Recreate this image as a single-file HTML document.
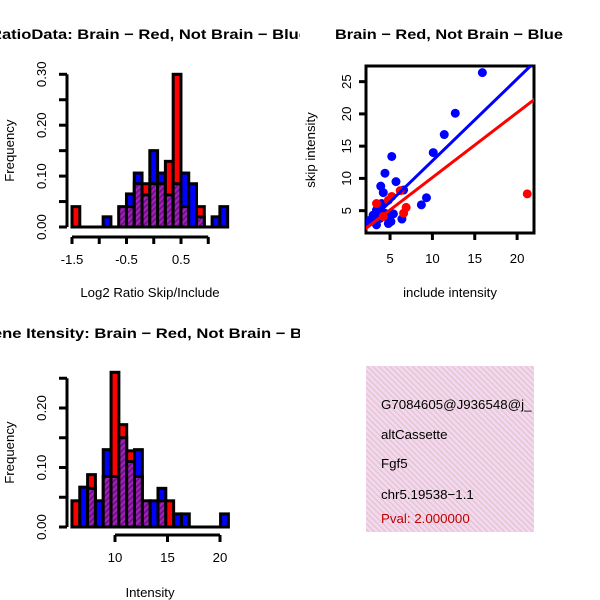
<!DOCTYPE html>
<html><head><meta charset="utf-8"><style>
html,body{margin:0;padding:0;background:#fff;}
svg{display:block;font-family:"Liberation Sans",sans-serif;}
</style></head><body>
<svg id="fig" width="600" height="600" viewBox="0 0 600 600">
<defs>
<pattern id="hatch" width="4" height="4" patternUnits="userSpaceOnUse" patternTransform="rotate(45)">
<rect width="4" height="4" fill="#a020b8"/><rect width="1.6" height="4" fill="#6a1080"/>
</pattern>
<pattern id="pinkhatch" width="4" height="4" patternUnits="userSpaceOnUse" patternTransform="rotate(-45)">
<rect width="4" height="4" fill="#f6d6f0"/><rect width="1.3" height="4" fill="#dcc8cc"/>
</pattern>
<clipPath id="clipTop"><rect x="0" y="0" width="300" height="60"/></clipPath>
<clipPath id="clipBot"><rect x="0" y="300" width="300" height="60"/></clipPath>
<clipPath id="clipSc"><rect x="366" y="66" width="168" height="167"/></clipPath>
<clipPath id="clipBox"><rect x="366" y="366" width="168" height="166"/></clipPath>
</defs>
<g id="g1"></g>
<g id="g2"></g>
<g id="g3"></g>
<g>
<rect x="366" y="366" width="168" height="166" fill="url(#pinkhatch)"/>
<g clip-path="url(#clipBox)" font-size="13.3">
<text x="381" y="409">G7084605@J936548@j_</text>
<text x="381" y="439">altCassette</text>
<text x="381" y="468">Fgf5</text>
<text x="381" y="499">chr5.19538−1.1</text>
<text x="381" y="523" fill="#c00000">Pval: 2.000000</text>
</g></g>
</svg>
<script>
// ---- data ----
const ratioRed = [0.04,0,0,0,0,0,0.04,0.04,0.085,0.085,0.085,0.085,0.129,0.30,0.04,0,0.04,0,0,0];
const ratioBlue = [0,0,0,0,0.02,0,0.04,0.065,0.106,0.063,0.15,0.106,0.063,0.085,0.106,0.085,0.02,0,0.02,0.04];
const ratioXTicks = [-1.5,-1,-0.5,0,0.5,1];
const ratioXLabels = ["-1.5","","-0.5","","0.5",""];
const ratioYTicks = [0,0.05,0.10,0.15,0.20,0.25,0.30];
const ratioYLabels = ["0.00","","0.10","","0.20","","0.30"];
const intRed = [0.044,0,0.088,0,0.085,0.26,0.172,0.128,0.085,0.044,0,0.044,0.044,0,0,0,0,0,0,0];
const intBlue = [0,0.067,0.065,0.044,0.13,0.085,0.15,0.11,0.13,0.044,0.044,0.065,0,0.022,0.022,0,0,0,0,0.022];
const intXTicks = [10,15,20];
const intYTicks = [0,0.05,0.10,0.15,0.20,0.25];
const intYLabels = ["0.00","","0.10","","0.20",""];
const blueX = [15.9,12.7,11.4,10.1,5.2,4.4,5.7,3.9,4.2,6.6,9.3,8.7,6.4,5.1,3.0,3.4,4.0,3.8,3.4,4.4,5.4,4.8,2.6,3.6,4.6,3.2];
const blueY = [26.4,20.1,16.8,14.0,13.4,10.8,9.5,8.8,7.8,8.2,7.0,5.9,3.7,3.3,4.3,5.1,6.1,3.8,2.8,4.6,4.5,3.0,3.5,5.5,4.0,3.6];
const redX = [21.2,6.9,6.6,6.2,5.2,3.4,4.8,4.2];
const redY = [7.6,5.5,4.6,8.1,7.2,6.1,6.6,4.1];
const fitSlope = [1.27,1.005];
const fitIntercept = [0.02,0.09];
const scXTicks = [5,10,15,20];
const scYTicks = [5,10,15,20,25];

const NS="http://www.w3.org/2000/svg";
const FS=13.2;
function mk(parent,tag,attrs,text){const e=document.createElementNS(NS,tag);for(const k in attrs)e.setAttribute(k,attrs[k]);if(text!==undefined)e.textContent=text;parent.appendChild(e);return e;}

function hist(g,red,blue,x0,bw,xs,ys,base,xTicks,xLabels,xAxisY,yTicks,yLabels,title,titleX,titleLen,titleClip,titleY,xlab,xlabY){
  const X=v=>xs.o+(v-xs.v0)*xs.k, Y=v=>base-v*ys;
  for(let i=0;i<red.length;i++){
    const l=X(x0+i*bw), r=X(x0+(i+1)*bw);
    const mx=Math.max(red[i],blue[i]), mn=Math.min(red[i],blue[i]);
    if(mx>0 && red[i]!==blue[i]){
      const b=mk(g,'rect',{x:l,y:Y(mx),width:r-l,height:base-Y(mx),fill:red[i]>blue[i]?'#ff0000':'#0000ff',stroke:'#000','stroke-width':3});
      
      
    }
    if(mn>0){
      const p=mk(g,'rect',{x:l,y:Y(mn),width:r-l,height:base-Y(mn),fill:'url(#hatch)',stroke:'#000','stroke-width':3});
      
      
    }
  }
  const xl=X(x0), xr=X(x0+red.length*bw);
  mk(g,'line',{x1:xl,x2:xr,y1:base,y2:base,stroke:'#000','stroke-width':3});
  const xa=mk(g,'g',{});
  
  
  mk(xa,'line',{x1:X(xTicks[0]),x2:X(xTicks[xTicks.length-1]),y1:xAxisY,y2:xAxisY,stroke:'#000','stroke-width':3});
  xTicks.forEach((t,i)=>{mk(xa,'line',{x1:X(t),x2:X(t),y1:xAxisY,y2:xAxisY+7,stroke:'#000','stroke-width':3});
    if(xLabels[i]) mk(xa,'text',{x:X(t),y:xAxisY+27,'text-anchor':'middle','font-size':FS},xLabels[i]);});
  const ya=mk(g,'g',{});
  
  
  const ax=67;
  mk(ya,'line',{x1:ax,x2:ax,y1:Y(yTicks[0]),y2:Y(yTicks[yTicks.length-1]),stroke:'#000','stroke-width':3});
  yTicks.forEach((t,i)=>{mk(ya,'line',{x1:ax-8,x2:ax,y1:Y(t),y2:Y(t),stroke:'#000','stroke-width':3});
    if(yLabels[i]) mk(ya,'text',{x:46,y:Y(t),'text-anchor':'middle','font-size':FS,transform:`rotate(-90 46 ${Y(t)})`},yLabels[i]);});
  const cy=(base+Y(yTicks[yTicks.length-1]))/2;
  const yt=mk(g,'text',{x:14,y:cy,'text-anchor':'middle','font-size':FS,transform:`rotate(-90 14 ${cy})`},'Frequency');
  
  
  const xt=mk(g,'text',{x:150,y:xlabY,'text-anchor':'middle','font-size':FS},xlab);
  
  
  const tg=mk(g,'g',{'clip-path':`url(#${titleClip})`});
  const tt=mk(tg,'text',{x:titleX,y:titleY,'font-size':14,'font-weight':'bold',textLength:titleLen,lengthAdjust:'spacingAndGlyphs'},title);
  
  
}

hist(document.getElementById('g1'),ratioRed,ratioBlue,-1.5,0.1428,{o:72,v0:-1.5,k:54.5},509,227,
  ratioXTicks,ratioXLabels,237,ratioYTicks,ratioYLabels,'RatioData: Brain − Red, Not Brain − Blue',-10,318,'clipTop',39,'Log2 Ratio Skip/Include',297);
hist(document.getElementById('g3'),intRed,intBlue,5.9,0.745,{o:115,v0:10,k:10.5},595,527,
  intXTicks,intXTicks.map(String),535,intYTicks,intYLabels,'Gene Itensity: Brain − Red, Not Brain − Blue',-20,346,'clipBot',338,'Intensity',597);

(function(){
  const g=document.getElementById('g2');
  const X=v=>347.7+v*8.47, Y=v=>242.9-v*6.45;
  const fr=mk(g,'rect',{x:366,y:66,width:168,height:167,fill:'none',stroke:'#000','stroke-width':3});
  
  
  const pts=mk(g,'g',{'clip-path':'url(#clipSc)'});
  blueX.forEach((x,i)=>{const c=mk(pts,'circle',{cx:X(x),cy:Y(blueY[i]),r:4.5,fill:'#0000ff'});
    
    });
  redX.forEach((x,i)=>{const c=mk(pts,'circle',{cx:X(x),cy:Y(redY[i]),r:4.5,fill:'#ff0000'});
    
    });
  ['#0000ff','#ff0000'].forEach((col,i)=>{
    const x1=1,x2=25;
    const l=mk(pts,'line',{x1:X(x1),x2:X(x2),y1:Y(fitIntercept[i]+fitSlope[i]*x1),y2:Y(fitIntercept[i]+fitSlope[i]*x2),stroke:col,'stroke-width':3});
    
    
  });
  const xa=mk(g,'g',{});
  
  
  mk(xa,'line',{x1:X(scXTicks[0]),x2:X(scXTicks[scXTicks.length-1]),y1:233,y2:233,stroke:'#000','stroke-width':3});
  scXTicks.forEach(t=>{mk(xa,'line',{x1:X(t),x2:X(t),y1:233,y2:240,stroke:'#000','stroke-width':3});
    mk(xa,'text',{x:X(t),y:263,'text-anchor':'middle','font-size':FS},String(t));});
  const ya=mk(g,'g',{});
  
  
  scYTicks.forEach(t=>{mk(ya,'line',{x1:359,x2:366,y1:Y(t),y2:Y(t),stroke:'#000','stroke-width':3});
    mk(ya,'text',{x:351,y:Y(t),'text-anchor':'middle','font-size':FS,transform:`rotate(-90 351 ${Y(t)})`},String(t));});
  const xt=mk(g,'text',{x:450,y:297,'text-anchor':'middle','font-size':FS},'include intensity');
  
  
  const yt=mk(g,'text',{x:315,y:150,'text-anchor':'middle','font-size':FS,transform:'rotate(-90 315 150)'},'skip intensity');
  
  
  const tt=mk(g,'text',{x:335,y:39,'font-size':14,'font-weight':'bold',textLength:228,lengthAdjust:'spacingAndGlyphs'},'Brain − Red, Not Brain − Blue');
  
  
})();
</script>
</body></html>
